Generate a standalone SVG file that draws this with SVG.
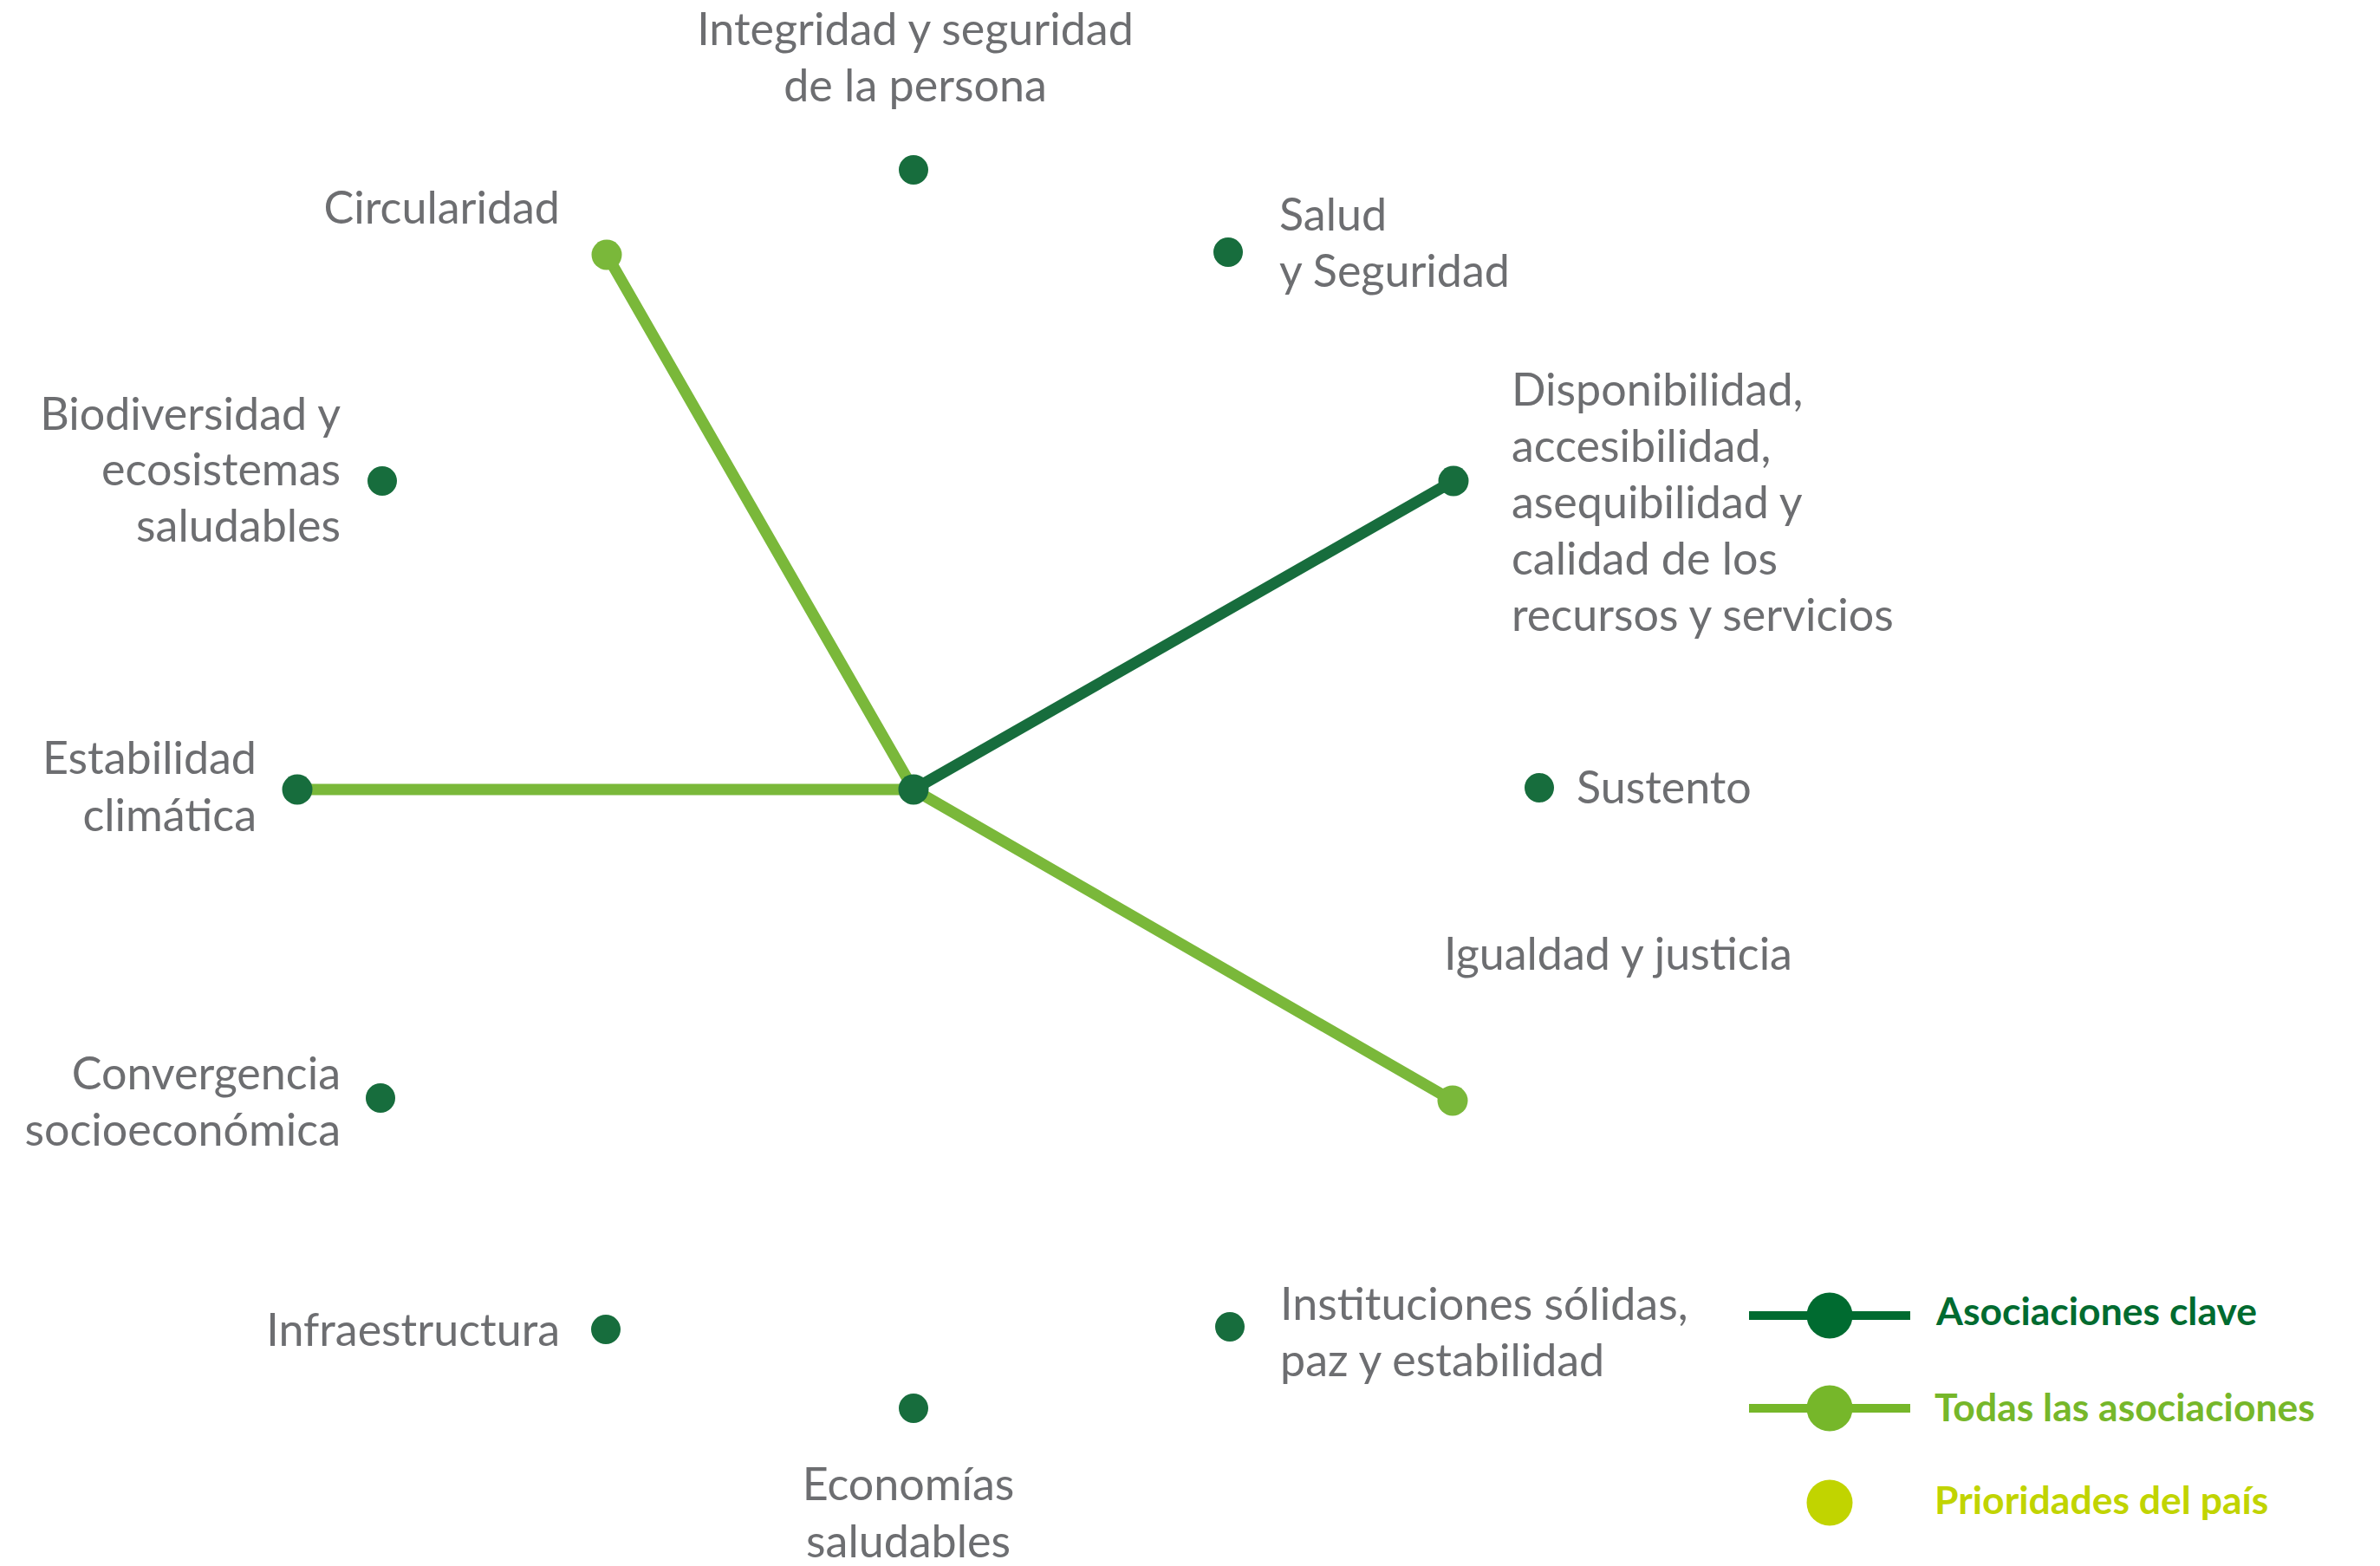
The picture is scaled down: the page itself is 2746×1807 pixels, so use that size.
<svg xmlns="http://www.w3.org/2000/svg" width="2746" height="1807" viewBox="0 0 2746 1807">
<style>
.lbl{font-family:Lato,"Noto Sans","Liberation Sans",sans-serif;font-size:52px;fill:#6d6e71}
.r{text-anchor:end}
.m{text-anchor:middle}
.dk{fill:#176d3d}
.lt{fill:#7ab83a}
.ln{fill:none;stroke-width:13;stroke-linecap:round}
.lnd{stroke:#176d3d}
.lnl{stroke:#7ab83a}
.leg{font-family:Lato,"Noto Sans","Liberation Sans",sans-serif;font-size:44.5px;font-weight:bold}
</style>
<rect width="2746" height="1807" fill="#ffffff"/>
<g id="connectors">
<line class="ln lnl" x1="1054" y1="911" x2="700" y2="294"/>
<line class="ln lnl" x1="1054" y1="911" x2="343" y2="911"/>
<line class="ln lnl" x1="1054" y1="911" x2="1676" y2="1270"/>
<line class="ln lnd" x1="1054" y1="911" x2="1677" y2="555"/>
</g>
<g id="node-center"><circle class="dk" cx="1054" cy="911" r="17.5"/></g>
<g id="node-integridad">
<circle class="dk" cx="1054" cy="196" r="17"/>
<text class="lbl m" x="1056" y="52">Integridad y seguridad</text>
<text class="lbl m" x="1056" y="117">de la persona</text>
</g>
<g id="node-salud">
<circle class="dk" cx="1417" cy="291" r="17"/>
<text class="lbl" x="1476" y="266">Salud</text>
<text class="lbl" x="1476" y="331">y Seguridad</text>
</g>
<g id="node-disponibilidad">
<circle class="dk" cx="1677" cy="555" r="17.5"/>
<text class="lbl" x="1744" y="468">Disponibilidad,</text>
<text class="lbl" x="1744" y="533">accesibilidad,</text>
<text class="lbl" x="1744" y="598">asequibilidad y</text>
<text class="lbl" x="1744" y="663">calidad de los</text>
<text class="lbl" x="1744" y="728">recursos y servicios</text>
</g>
<g id="node-sustento">
<circle class="dk" cx="1776" cy="909" r="17"/>
<text class="lbl" x="1819" y="927">Sustento</text>
</g>
<g id="node-igualdad">
<circle class="lt" cx="1676" cy="1270" r="17.5"/>
<text class="lbl" x="1666" y="1119">Igualdad y justicia</text>
</g>
<g id="node-instituciones">
<circle class="dk" cx="1419" cy="1531" r="17"/>
<text class="lbl" x="1477" y="1523">Instituciones sólidas,</text>
<text class="lbl" x="1477" y="1588">paz y estabilidad</text>
</g>
<g id="node-economias">
<circle class="dk" cx="1054" cy="1625" r="17"/>
<text class="lbl m" x="1048" y="1731">Economías</text>
<text class="lbl m" x="1048" y="1797">saludables</text>
</g>
<g id="node-infraestructura">
<circle class="dk" cx="699" cy="1534" r="17"/>
<text class="lbl r" x="646" y="1553">Infraestructura</text>
</g>
<g id="node-convergencia">
<circle class="dk" cx="439" cy="1267" r="17"/>
<text class="lbl r" x="393" y="1257">Convergencia</text>
<text class="lbl r" x="393" y="1322">socioeconómica</text>
</g>
<g id="node-estabilidad">
<circle class="dk" cx="343" cy="911" r="17.5"/>
<text class="lbl r" x="296" y="893">Estabilidad</text>
<text class="lbl r" x="296" y="959">climática</text>
</g>
<g id="node-biodiversidad">
<circle class="dk" cx="441" cy="555" r="17"/>
<text class="lbl r" x="393" y="496">Biodiversidad y</text>
<text class="lbl r" x="393" y="560">ecosistemas</text>
<text class="lbl r" x="393" y="625">saludables</text>
</g>
<g id="node-circularidad">
<circle class="lt" cx="700" cy="294" r="17.5"/>
<text class="lbl r" x="646" y="258">Circularidad</text>
</g>
<g id="legend">
<line x1="2018" y1="1518" x2="2204" y2="1518" stroke="#006b30" stroke-width="10"/>
<circle cx="2111" cy="1518" r="26.5" fill="#006b30"/>
<text class="leg" x="2234" y="1529" fill="#006b30">Asociaciones clave</text>
<line x1="2018" y1="1625" x2="2204" y2="1625" stroke="#76b72a" stroke-width="10"/>
<circle cx="2111" cy="1625" r="26.5" fill="#76b72a"/>
<text class="leg" x="2232" y="1640" fill="#76b72a">Todas las asociaciones</text>
<circle cx="2111" cy="1734" r="26.5" fill="#c1d400"/>
<text class="leg" x="2232" y="1747" fill="#c1d400">Prioridades del país</text>
</g>
</svg>
